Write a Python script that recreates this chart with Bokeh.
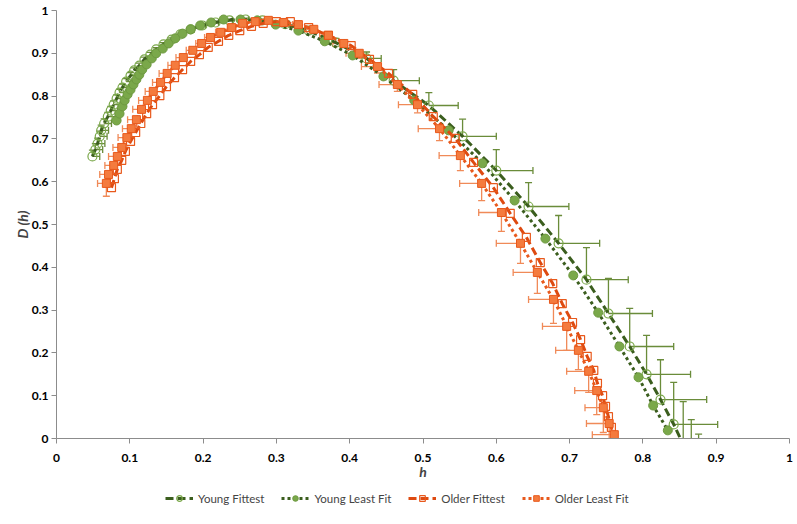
import numpy as np
from bokeh.plotting import figure
from bokeh.layouts import column
from bokeh.models import (ColumnDataSource, Whisker, TeeHead, Legend, LegendItem,
                          FixedTicker, NumeralTickFormatter, Range1d)
from bokeh.embed import file_html
from bokeh.resources import INLINE

# ---------------- data ----------------
yf_h = [0.049, 0.053, 0.056, 0.059, 0.061, 0.065, 0.070, 0.074, 0.078, 0.082, 0.086, 0.090, 0.095,
        0.101, 0.106, 0.113, 0.120, 0.128, 0.136, 0.146, 0.157, 0.169, 0.183, 0.199, 0.217, 0.236,
        0.258, 0.281, 0.312, 0.344, 0.381, 0.423, 0.460, 0.508, 0.554, 0.600, 0.644, 0.685, 0.723,
        0.753, 0.782, 0.805, 0.824, 0.842, 0.855, 0.866, 0.876]
yf_d = [0.659, 0.675, 0.689, 0.706, 0.720, 0.736, 0.752, 0.766, 0.780, 0.794, 0.808, 0.820, 0.834,
        0.848, 0.860, 0.871, 0.886, 0.897, 0.909, 0.921, 0.932, 0.944, 0.956, 0.965, 0.972, 0.977,
        0.979, 0.977, 0.968, 0.953, 0.925, 0.888, 0.836, 0.778, 0.706, 0.626, 0.542, 0.456, 0.371,
        0.292, 0.215, 0.150, 0.091, 0.033, -0.014, -0.056, -0.090]
yf_xerr = [0.010, 0.010, 0.010, 0.010, 0.010, 0.010, 0.010, 0.009, 0.009, 0.009, 0.008, 0.008, 0.008,
           0.008, 0.007, 0.007, 0.007, 0.006, 0.006, 0.006, 0.005, 0.005, 0.005, 0.004, 0.004, 0.004,
           0.004, 0.004, 0.006, 0.008, 0.012, 0.020, 0.035, 0.040, 0.046, 0.050, 0.055, 0.056, 0.057,
           0.060, 0.060, 0.060, 0.063, 0.060, 0.059, 0.060, 0.060]
yf_yerr = [0.015, 0.014, 0.013, 0.012, 0.012, 0.011, 0.010, 0.010, 0.009, 0.009, 0.008, 0.008, 0.007,
           0.007, 0.006, 0.006, 0.005, 0.005, 0.004, 0.004, 0.004, 0.003, 0.003, 0.003, 0.003, 0.003,
           0.003, 0.003, 0.004, 0.006, 0.010, 0.015, 0.026, 0.030, 0.040, 0.049, 0.056, 0.065, 0.075,
           0.082, 0.089, 0.091, 0.093, 0.098, 0.100, 0.100, 0.100]

yl_h = [0.082, 0.086, 0.090, 0.093, 0.097, 0.101, 0.105, 0.109, 0.113, 0.117, 0.123, 0.130, 0.136,
        0.145, 0.153, 0.162, 0.172, 0.183, 0.196, 0.211, 0.228, 0.251, 0.274, 0.299, 0.330, 0.366,
        0.404, 0.446, 0.488, 0.535, 0.581, 0.625, 0.667, 0.705, 0.739, 0.768, 0.794, 0.814, 0.834]
yl_d = [0.743, 0.759, 0.776, 0.790, 0.804, 0.815, 0.827, 0.839, 0.850, 0.862, 0.874, 0.888, 0.900,
        0.911, 0.923, 0.935, 0.946, 0.956, 0.965, 0.972, 0.979, 0.979, 0.977, 0.967, 0.953, 0.928,
        0.895, 0.846, 0.790, 0.720, 0.643, 0.556, 0.467, 0.381, 0.294, 0.215, 0.143, 0.077, 0.019]

of_h = [0.075, 0.079, 0.083, 0.089, 0.094, 0.101, 0.108, 0.115, 0.123, 0.131, 0.141, 0.150, 0.161,
        0.172, 0.183, 0.195, 0.207, 0.221, 0.235, 0.250, 0.266, 0.282, 0.300, 0.319, 0.344, 0.371,
        0.402, 0.427, 0.453, 0.486, 0.514, 0.544, 0.569, 0.596, 0.619, 0.641, 0.660, 0.677, 0.690,
        0.704, 0.715, 0.724, 0.733, 0.738, 0.745, 0.749, 0.753, 0.757]
of_d = [0.586, 0.607, 0.629, 0.650, 0.671, 0.694, 0.715, 0.736, 0.759, 0.780, 0.801, 0.822, 0.843,
        0.862, 0.881, 0.897, 0.914, 0.928, 0.942, 0.953, 0.963, 0.970, 0.974, 0.974, 0.960, 0.942,
        0.918, 0.886, 0.853, 0.804, 0.752, 0.701, 0.645, 0.586, 0.526, 0.470, 0.411, 0.362, 0.315,
        0.271, 0.231, 0.192, 0.159, 0.129, 0.100, 0.075, 0.051, 0.026]

ol_h = [0.068, 0.071, 0.078, 0.083, 0.089, 0.096, 0.102, 0.109, 0.116, 0.124, 0.132, 0.142, 0.151,
        0.162, 0.173, 0.186, 0.198, 0.210, 0.224, 0.239, 0.254, 0.271, 0.289, 0.310, 0.330, 0.351,
        0.371, 0.392, 0.413, 0.438, 0.465, 0.4925, 0.5225, 0.551, 0.580, 0.607, 0.633, 0.656, 0.678,
        0.696, 0.712, 0.726, 0.737, 0.746, 0.754, 0.761, 0.765]
ol_d = [0.596, 0.617, 0.638, 0.659, 0.680, 0.703, 0.724, 0.745, 0.769, 0.790, 0.811, 0.832, 0.853,
        0.872, 0.890, 0.907, 0.923, 0.937, 0.949, 0.960, 0.970, 0.974, 0.977, 0.972, 0.967, 0.956,
        0.942, 0.923, 0.900, 0.869, 0.827, 0.780, 0.724, 0.661, 0.596, 0.528, 0.456, 0.388, 0.325,
        0.262, 0.206, 0.157, 0.112, 0.072, 0.035, 0.009, -0.014]
ol_xerr = [0.012, 0.012, 0.012, 0.012, 0.012, 0.012, 0.012, 0.012, 0.012, 0.012, 0.011, 0.011, 0.011,
           0.010, 0.010, 0.009, 0.008, 0.008, 0.007, 0.006, 0.005, 0.004, 0.004, 0.006, 0.008, 0.010,
           0.012, 0.015, 0.018, 0.022, 0.025, 0.026, 0.029, 0.029, 0.030, 0.031, 0.033, 0.033, 0.034,
           0.033, 0.031, 0.030, 0.030, 0.025, 0.031, 0.030, 0.030]
ol_yerr = [0.030, 0.010, 0.009, 0.009, 0.008, 0.008, 0.007, 0.007, 0.006, 0.006, 0.005, 0.005, 0.005,
           0.004, 0.004, 0.004, 0.003, 0.003, 0.003, 0.003, 0.003, 0.003, 0.003, 0.003, 0.004, 0.005,
           0.007, 0.009, 0.012, 0.015, 0.016, 0.019, 0.028, 0.035, 0.040, 0.044, 0.047, 0.049, 0.056,
           0.056, 0.045, 0.049, 0.056, 0.058, 0.050, 0.040, 0.030]

x_ticks = [0, 0.1, 0.2, 0.3, 0.4, 0.5, 0.6, 0.7, 0.8, 0.9, 1]
y_ticks = [0, 0.1, 0.2, 0.3, 0.4, 0.5, 0.6, 0.7, 0.8, 0.9, 1]
names = ["Young Fittest", "Young Least Fit", "Older Fittest", "Older Least Fit"]

# ---------------- styles ----------------
G_DARK = "#3B5E1E"
G_MARK = "#7AA84A"
G_EDGE = "#6E9A40"
G_ERR = "#6A8C3A"
O_DARK = "#DE4A10"
O_MARK = "#F47B3E"
O_EDGE = "#E8591C"
O_ERR = "#F08A58"
FONT = "Lato"

p = figure(width=797, height=482, output_backend="svg", toolbar_location=None,
           x_range=Range1d(0, 1), y_range=Range1d(0, 1),
           min_border_left=56, min_border_right=8, min_border_top=10, min_border_bottom=44)
p.outline_line_color = None
p.grid.visible = False
p.background_fill_color = "white"

for ax in (p.xaxis[0], p.yaxis[0]):
    ax.axis_line_color = "#8C8C8C"
    ax.major_tick_line_color = "#8C8C8C"
    ax.minor_tick_line_color = None
    ax.major_tick_in = 0
    ax.major_tick_out = 5
    ax.major_label_text_font = FONT
    ax.major_label_text_font_style = "bold"
    ax.major_label_text_font_size = "12px"
    ax.major_label_text_color = "#000000"
    ax.axis_label_text_font = FONT
    ax.axis_label_text_font_style = "bold italic"
    ax.axis_label_text_font_size = "14px"
    ax.formatter = NumeralTickFormatter(format="0.[0]")

p.xaxis.ticker = FixedTicker(ticks=x_ticks)
p.yaxis.ticker = FixedTicker(ticks=y_ticks)
p.xaxis.axis_label = "h"
p.yaxis.axis_label = "D (h)"
p.xaxis.major_label_standoff = 10
p.yaxis.major_label_standoff = 3
p.xaxis.axis_label_standoff = -2
p.yaxis.axis_label_standoff = -2

src_yf = ColumnDataSource(dict(h=yf_h, d=yf_d,
                               hh=list(np.array(yf_h) + np.array(yf_xerr)),
                               dh=list(np.array(yf_d) + np.array(yf_yerr))))
src_yl = ColumnDataSource(dict(h=yl_h, d=yl_d))
src_of = ColumnDataSource(dict(h=of_h, d=of_d))
src_ol = ColumnDataSource(dict(h=ol_h, d=ol_d,
                               hl=list(np.array(ol_h) - np.array(ol_xerr)),
                               dl=list(np.array(ol_d) - np.array(ol_yerr))))

LINE_STYLES = [dict(line_color=G_DARK, line_width=3, line_dash="8 4"),
               dict(line_color=G_DARK, line_width=3, line_dash="3 3"),
               dict(line_color=O_DARK, line_width=3, line_dash="8 4"),
               dict(line_color=O_EDGE, line_width=3, line_dash="3 3")]
MARK_STYLES = [dict(marker="circle", size=9, fill_color=None, line_color=G_MARK, line_width=1.2),
               dict(marker="circle", size=9, fill_color=G_MARK, line_color=G_EDGE, line_width=1),
               dict(marker="square", size=8, fill_color=None, line_color=O_EDGE, line_width=1.2),
               dict(marker="square", size=8, fill_color=O_MARK, line_color=O_EDGE, line_width=1)]

# Young Fittest
p.line("h", "d", source=src_yf, **LINE_STYLES[0])
p.add_layout(Whisker(source=src_yf, base="d", lower="h", upper="hh", dimension="width",
                     line_color=G_ERR, line_width=1.3, lower_head=None,
                     upper_head=TeeHead(size=7, line_color=G_ERR, line_width=1.3)))
p.add_layout(Whisker(source=src_yf, base="h", lower="d", upper="dh", dimension="height",
                     line_color=G_ERR, line_width=1.3, lower_head=None,
                     upper_head=TeeHead(size=7, line_color=G_ERR, line_width=1.3)))
p.scatter("h", "d", source=src_yf, **MARK_STYLES[0])

# Young Least Fit
p.line("h", "d", source=src_yl, **LINE_STYLES[1])
p.scatter("h", "d", source=src_yl, **MARK_STYLES[1])

# Older Fittest
p.line("h", "d", source=src_of, **LINE_STYLES[2])
p.scatter("h", "d", source=src_of, **MARK_STYLES[2])

# Older Least Fit
p.line("h", "d", source=src_ol, **LINE_STYLES[3])
p.add_layout(Whisker(source=src_ol, base="d", lower="hl", upper="h", dimension="width",
                     line_color=O_ERR, line_width=1.3, upper_head=None,
                     lower_head=TeeHead(size=7, line_color=O_ERR, line_width=1.3)))
p.add_layout(Whisker(source=src_ol, base="h", lower="dl", upper="d", dimension="height",
                     line_color=O_ERR, line_width=1.3, upper_head=None,
                     lower_head=TeeHead(size=7, line_color=O_ERR, line_width=1.3)))
p.scatter("h", "d", source=src_ol, **MARK_STYLES[3])

# ---------------- legend strip below the chart ----------------
pl = figure(width=797, height=26, output_backend="svg", toolbar_location=None,
            x_range=Range1d(0, 1), y_range=Range1d(0, 1),
            x_axis_location=None, y_axis_location=None,
            min_border_left=0, min_border_right=0, min_border_top=0, min_border_bottom=0)
pl.outline_line_color = None
pl.grid.visible = False
items = []
for name, ls, ms in zip(names, LINE_STYLES, MARK_STYLES):
    # placeholder renderers outside the visible range: only their legend swatches show
    lr = pl.line(x=[5, 6], y=[5, 6], **ls)
    mr = pl.scatter(x=[5.5], y=[5.5], **ms)
    items.append(LegendItem(label=name, renderers=[lr, mr]))
legend = Legend(items=items, orientation="horizontal", location=(109, 3),
                label_text_font=FONT, label_text_font_size="11.5px",
                glyph_width=28, glyph_height=14, label_standoff=5, spacing=17,
                padding=3, margin=0, border_line_color=None, background_fill_alpha=0)
pl.add_layout(legend, "center")

open("out.html", "w").write(file_html(column(p, pl, spacing=0), INLINE))
